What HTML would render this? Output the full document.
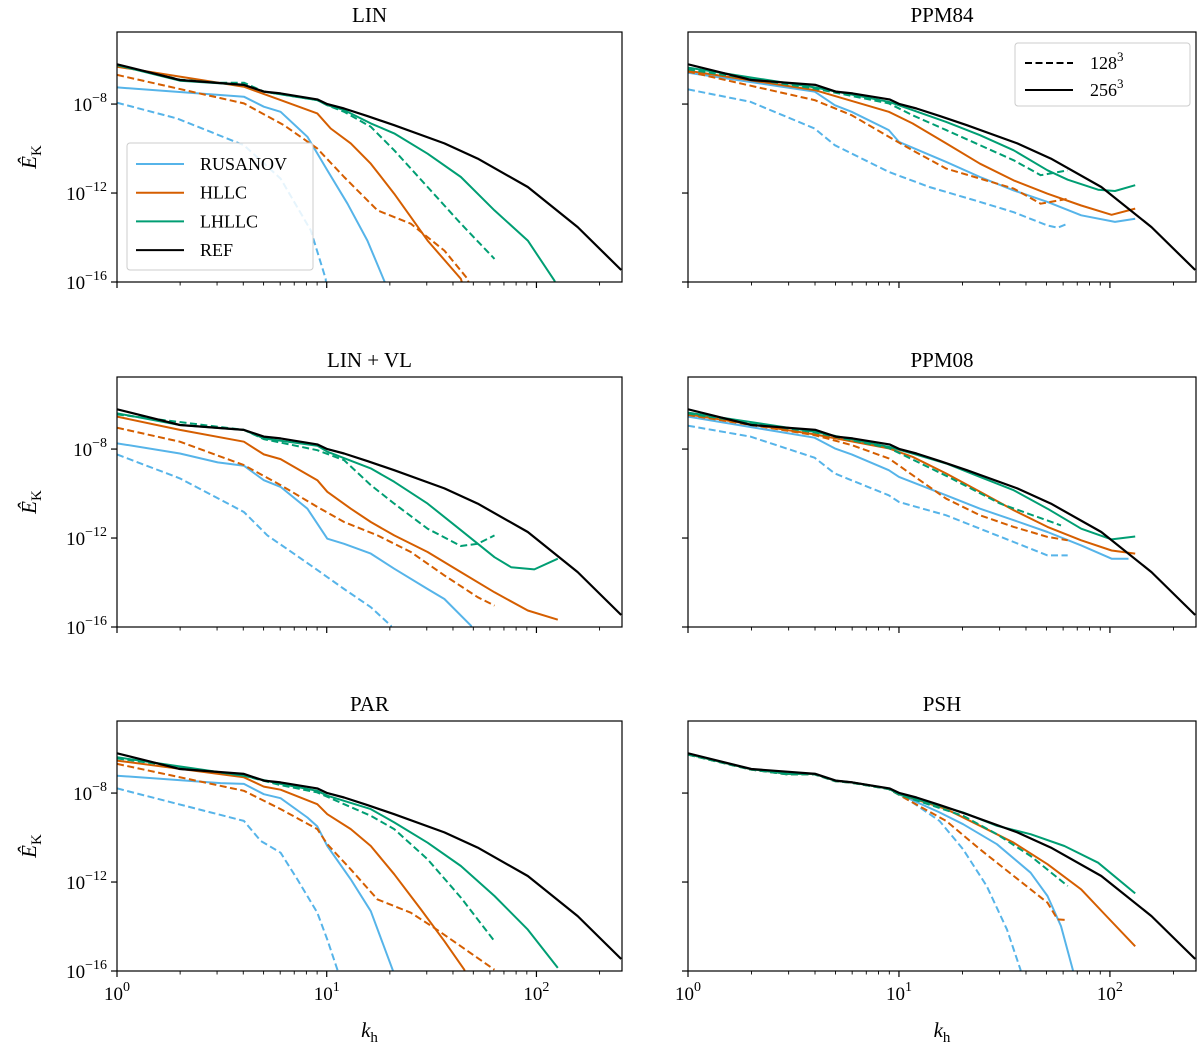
<!DOCTYPE html>
<html><head><meta charset="utf-8">
<style>
html,body{margin:0;padding:0;background:#fff;}
svg{display:block;font-family:"Liberation Serif","DejaVu Serif",serif;}
</style></head>
<body>
<svg id="fig" width="1200" height="1045" viewBox="0 0 1200 1045" xmlns="http://www.w3.org/2000/svg"></svg>
<script>
// data in log10 space: [log10 k_h, log10 E_K]
const panelTitles = ["LIN","PPM84","LIN + VL","PPM08","PAR","PSH"];
const schemes = ["RUSANOV","HLLC","LHLLC","REF"];
const refSeries = [[0,-6.21],[0.30,-6.92],[0.605,-7.14],[0.70,-7.44],[0.78,-7.52],[0.955,-7.79],[1.003,-8.0],[1.083,-8.2],[1.194,-8.54],[1.322,-8.95],[1.561,-9.77],[1.72,-10.45],[1.959,-11.73],[2.197,-13.53],[2.404,-15.46]];
const linRus256 = [[0,-7.25],[0.605,-7.67],[0.70,-8.12],[0.78,-8.35],[0.908,-9.47],[1.003,-10.98],[1.099,-12.48],[1.194,-14.14],[1.274,-15.94],[1.3,-16.5]];
const linRus128 = [[0,-7.94],[0.287,-8.65],[0.605,-9.85],[0.78,-11.35],[0.924,-13.68],[0.995,-15.86],[1.0,-16.5]];
const linHllc256 = [[0,-6.32],[0.605,-7.22],[0.78,-7.82],[0.955,-8.42],[1.019,-9.1],[1.115,-9.77],[1.21,-10.68],[1.322,-12.03],[1.481,-14.14],[1.64,-15.86],[1.66,-16.5]];
const linHllc128 = [[0,-6.69],[0.605,-7.97],[0.796,-8.95],[0.955,-10.0],[1.083,-11.28],[1.242,-12.78],[1.401,-13.38],[1.561,-14.59],[1.672,-15.86],[1.69,-16.5]];
const linLh256 = [[0,-6.25],[0.30,-6.95],[0.605,-7.14],[0.70,-7.44],[0.955,-7.82],[1.003,-8.05],[1.083,-8.27],[1.21,-8.87],[1.322,-9.32],[1.481,-10.23],[1.64,-11.28],[1.80,-12.78],[1.959,-14.14],[2.086,-15.94],[2.1,-16.5]];
const linLh128 = [[0,-6.25],[0.30,-6.9],[0.48,-7.04],[0.605,-7.04],[0.70,-7.44],[0.955,-7.82],[1.003,-8.05],[1.083,-8.35],[1.21,-9.02],[1.322,-10.08],[1.481,-11.73],[1.64,-13.38],[1.80,-14.96]];
const p84Rus256 = [[0,-6.59],[0.6,-7.44],[0.696,-8.05],[0.776,-8.35],[0.952,-9.17],[1.0,-9.7],[1.224,-10.6],[1.384,-11.28],[1.544,-11.88],[1.704,-12.4],[1.864,-13.0],[2.024,-13.3],[2.12,-13.16]];
const p84Rus128 = [[0,-7.34],[0.296,-7.9],[0.6,-9.1],[0.696,-9.85],[0.952,-11.05],[1.144,-11.73],[1.384,-12.4],[1.544,-12.86],[1.704,-13.46],[1.752,-13.56],[1.8,-13.38]];
const p84Hllc256 = [[0,-6.5],[0.6,-7.37],[0.952,-8.35],[1.064,-8.87],[1.224,-9.77],[1.384,-10.68],[1.544,-11.43],[1.704,-12.03],[1.864,-12.56],[2.008,-12.98],[2.12,-12.7]];
const p84Hllc128 = [[0,-6.54],[0.6,-7.82],[0.776,-8.5],[0.952,-9.47],[1.064,-10.08],[1.224,-10.9],[1.384,-11.35],[1.544,-11.8],[1.672,-12.48],[1.8,-12.26]];
const p84Lh256 = [[0,-6.36],[0.6,-7.25],[0.952,-7.9],[1.064,-8.27],[1.224,-8.8],[1.384,-9.4],[1.544,-10.08],[1.704,-10.98],[1.8,-11.4],[1.944,-11.85],[2.024,-11.91],[2.12,-11.65]];
const p84Lh128 = [[0,-6.44],[0.6,-7.3],[0.952,-7.97],[1.064,-8.5],[1.224,-9.17],[1.384,-9.85],[1.544,-10.53],[1.672,-11.2],[1.8,-10.98]];
const vlRus256 = [[0,-7.74],[0.30,-8.2],[0.48,-8.6],[0.605,-8.75],[0.70,-9.4],[0.78,-9.7],[0.908,-10.68],[1.003,-12.03],[1.083,-12.26],[1.21,-12.7],[1.322,-13.38],[1.481,-14.29],[1.561,-14.74],[1.688,-15.94],[1.71,-16.5]];
const vlRus128 = [[0,-8.24],[0.30,-9.32],[0.605,-10.83],[0.717,-11.88],[0.924,-13.23],[1.083,-14.29],[1.21,-15.11],[1.306,-15.94],[1.32,-16.5]];
const vlHllc256 = [[0,-6.54],[0.30,-7.14],[0.605,-7.67],[0.70,-8.24],[0.78,-8.45],[0.955,-9.4],[1.003,-9.92],[1.115,-10.68],[1.21,-11.28],[1.322,-11.88],[1.481,-12.63],[1.64,-13.53],[1.80,-14.44],[1.959,-15.26],[2.102,-15.67]];
const vlHllc128 = [[0,-7.04],[0.30,-7.67],[0.605,-8.72],[0.78,-9.62],[0.955,-10.6],[1.083,-11.28],[1.242,-11.88],[1.401,-12.63],[1.561,-13.68],[1.72,-14.66],[1.80,-15.04]];
const vlLh256 = [[0,-6.39],[0.30,-6.92],[0.605,-7.14],[0.70,-7.52],[0.955,-7.85],[1.003,-8.12],[1.21,-8.87],[1.322,-9.47],[1.481,-10.45],[1.64,-11.65],[1.80,-12.86],[1.879,-13.31],[1.99,-13.41],[2.102,-12.93]];
const vlLh128 = [[0,-6.44],[0.605,-7.14],[0.70,-7.55],[0.955,-8.05],[1.083,-8.5],[1.21,-9.62],[1.322,-10.45],[1.481,-11.58],[1.64,-12.36],[1.72,-12.26],[1.80,-11.88]];
const p08Rus256 = [[0,-6.54],[0.6,-7.49],[0.696,-7.97],[0.776,-8.24],[0.952,-8.95],[1.0,-9.25],[1.224,-10.08],[1.384,-10.68],[1.544,-11.2],[1.704,-11.73],[1.864,-12.33],[2.008,-12.93],[2.088,-12.93]];
const p08Rus128 = [[0,-6.95],[0.296,-7.44],[0.6,-8.39],[0.696,-9.1],[0.952,-10.08],[1.0,-10.38],[1.224,-10.98],[1.384,-11.58],[1.544,-12.18],[1.704,-12.78],[1.8,-12.78]];
const p08Hllc256 = [[0,-6.44],[0.6,-7.34],[0.952,-7.97],[1.064,-8.35],[1.224,-9.1],[1.384,-9.92],[1.544,-10.75],[1.704,-11.5],[1.864,-12.1],[2.008,-12.56],[2.12,-12.7]];
const p08Hllc128 = [[0,-6.47],[0.6,-7.37],[0.776,-7.82],[0.952,-8.42],[1.064,-9.17],[1.224,-10.23],[1.384,-10.98],[1.544,-11.5],[1.704,-11.95],[1.8,-12.1]];
const p08Lh256 = [[0,-6.36],[0.6,-7.22],[0.952,-7.9],[1.064,-8.2],[1.224,-8.65],[1.384,-9.25],[1.544,-9.85],[1.704,-10.68],[1.864,-11.58],[2.008,-12.06],[2.12,-11.93]];
const p08Lh128 = [[0,-6.4],[0.6,-7.25],[0.952,-7.95],[1.224,-9.2],[1.48,-10.45],[1.768,-11.43]];
const parRus256 = [[0,-7.22],[0.494,-7.55],[0.605,-7.59],[0.70,-8.05],[0.78,-8.23],[0.908,-9.1],[0.955,-9.5],[1.003,-10.38],[1.115,-11.88],[1.21,-13.31],[1.314,-15.94],[1.33,-16.5]];
const parRus128 = [[0,-7.79],[0.48,-8.95],[0.605,-9.25],[0.685,-10.15],[0.78,-10.68],[0.86,-11.88],[0.955,-13.38],[1.003,-14.59],[1.051,-15.94],[1.06,-16.5]];
const parHllc256 = [[0,-6.54],[0.605,-7.29],[0.70,-7.71],[0.78,-7.85],[0.955,-8.5],[1.003,-8.95],[1.115,-9.62],[1.21,-10.38],[1.322,-11.65],[1.449,-13.23],[1.561,-14.66],[1.656,-15.94],[1.67,-16.5]];
const parHllc128 = [[0,-6.69],[0.605,-7.9],[0.78,-8.72],[0.955,-9.62],[1.003,-10.3],[1.115,-11.43],[1.242,-12.78],[1.401,-13.38],[1.513,-14.06],[1.64,-14.89],[1.80,-15.94]];
const parLh256 = [[0,-6.39],[0.605,-7.22],[0.78,-7.59],[0.955,-7.9],[1.003,-8.12],[1.21,-8.72],[1.322,-9.32],[1.481,-10.23],[1.64,-11.28],[1.80,-12.63],[1.959,-14.14],[2.102,-15.86]];
const parLh128 = [[0,-6.44],[0.605,-7.22],[0.78,-7.64],[0.955,-7.97],[1.083,-8.5],[1.21,-9.02],[1.322,-9.62],[1.481,-10.98],[1.64,-12.7],[1.80,-14.66]];
const pshRus256 = [[0,-6.25],[0.296,-6.92],[0.472,-7.14],[0.6,-7.14],[0.696,-7.44],[0.776,-7.52],[0.952,-7.8],[1.0,-8.05],[1.192,-8.87],[1.304,-9.4],[1.464,-10.3],[1.624,-11.58],[1.704,-12.63],[1.768,-13.98],[1.824,-15.94],[1.83,-16.5]];
const pshRus128 = [[0,-6.27],[0.296,-6.94],[0.472,-7.16],[0.6,-7.16],[0.696,-7.46],[0.776,-7.54],[0.952,-7.82],[1.064,-8.42],[1.192,-9.25],[1.304,-10.53],[1.416,-12.18],[1.512,-14.14],[1.576,-15.94],[1.58,-16.5]];
const pshHllc256 = [[0,-6.25],[0.296,-6.92],[0.472,-7.14],[0.6,-7.14],[0.696,-7.44],[0.776,-7.52],[0.952,-7.8],[1.0,-8.05],[1.224,-8.72],[1.384,-9.47],[1.544,-10.23],[1.704,-11.2],[1.864,-12.33],[1.976,-13.46],[2.12,-14.89]];
const pshHllc128 = [[0,-6.27],[0.296,-6.94],[0.472,-7.16],[0.6,-7.16],[0.696,-7.46],[0.776,-7.54],[0.952,-7.82],[1.064,-8.42],[1.224,-9.25],[1.384,-10.53],[1.544,-11.73],[1.704,-12.93],[1.752,-13.68],[1.8,-13.71]];
const pshLh256 = [[0,-6.25],[0.296,-6.92],[0.472,-7.14],[0.6,-7.14],[0.696,-7.44],[0.776,-7.52],[0.952,-7.8],[1.0,-8.05],[1.304,-8.87],[1.464,-9.47],[1.624,-9.85],[1.784,-10.38],[1.944,-11.13],[2.12,-12.51]];
const pshLh128 = [[0,-6.27],[0.296,-6.94],[0.472,-7.16],[0.6,-7.16],[0.696,-7.46],[0.776,-7.54],[0.952,-7.82],[1.0,-8.07],[1.304,-9.02],[1.464,-9.85],[1.624,-10.83],[1.8,-12.18]];
const panelSeries = [
 [linRus128,linRus256,linHllc128,linHllc256,linLh128,linLh256],
 [p84Rus128,p84Rus256,p84Hllc128,p84Hllc256,p84Lh128,p84Lh256],
 [vlRus128,vlRus256,vlHllc128,vlHllc256,vlLh128,vlLh256],
 [p08Rus128,p08Rus256,p08Hllc128,p08Hllc256,p08Lh128,p08Lh256],
 [parRus128,parRus256,parHllc128,parHllc256,parLh128,parLh256],
 [pshRus128,pshRus256,pshHllc128,pshHllc256,pshLh128,pshLh256]
];
const yTickVals = [-16,-12,-8];
const xTickVals = [0,1,2];

const NS="http://www.w3.org/2000/svg";
const svg=document.getElementById('fig');
function mk(tag,attrs,parent){const e=document.createElementNS(NS,tag);for(const k in attrs)e.setAttribute(k,attrs[k]);(parent||svg).appendChild(e);return e;}
const colors=["#56B4E9","#D55E00","#009E73","#000000"];
const cols=[{x0:117,x1:622},{x0:688,x1:1196}];
const rows=[{y0:32,y1:282},{y0:377,y1:627},{y0:721,y1:971}];
const XMAX=2.408, YMIN=-16, YMAX=-4.76;

for(let p=0;p<6;p++){
  const c=cols[p%2], r=rows[Math.floor(p/2)];
  const sx=v=>c.x0+(v/XMAX)*(c.x1-c.x0);
  const sy=v=>r.y1-(v-YMIN)/(YMAX-YMIN)*(r.y1-r.y0);
  const g=mk('g',{});
  
  
  const cp=mk('clipPath',{id:'clip'+p},g);
  mk('rect',{x:c.x0,y:r.y0,width:c.x1-c.x0,height:r.y1-r.y0},cp);
  const t=mk('text',{x:(c.x0+c.x1)/2,y:r.y0-10,'text-anchor':'middle','font-size':'21'},g);
  t.textContent=panelTitles[p];
  
  
  const lines=mk('g',{'clip-path':'url(#clip'+p+')'},g);
  const all=panelSeries[p];
  for(let s=0;s<6;s++){
    const data=all[s];
    const d=data.map((pt,i)=>(i?'L':'M')+sx(pt[0]).toFixed(1)+','+sy(pt[1]).toFixed(1)).join(' ');
    const path=mk('path',{d:d,fill:'none',stroke:colors[Math.floor(s/2)],'stroke-width':'2','stroke-linejoin':'round','stroke-dasharray':(s%2===0)?'7,3.5':'none'},lines);
    
    
  }
  const rd=refSeries.map((pt,i)=>(i?'L':'M')+sx(pt[0]).toFixed(1)+','+sy(pt[1]).toFixed(1)).join(' ');
  const refPath=mk('path',{d:rd,fill:'none',stroke:'#000','stroke-width':'2.2','stroke-linejoin':'round'},lines);
  
  
  const fr=mk('rect',{x:c.x0,y:r.y0,width:c.x1-c.x0,height:r.y1-r.y0,fill:'none',stroke:'#000','stroke-width':'1.2'},g);
  
  
  for(const v of yTickVals){
    const y=sy(v);
    mk('line',{x1:c.x0-6,x2:c.x0,y1:y,y2:y,stroke:'#000','stroke-width':'1.2'},g);
    if(p%2===0){
      const tl=mk('text',{x:c.x0-10,y:y+7,'text-anchor':'end','font-size':'19'},g);
      tl.innerHTML='10<tspan dy="-9" font-size="14">\u2212'+(-v)+'</tspan>';
      
      
    }
  }
  for(let dec=0;dec<3;dec++){
    for(let m=1;m<10;m++){
      const lv=dec+Math.log10(m);
      if(lv>XMAX)break;
      const x=sx(lv);
      mk('line',{x1:x,x2:x,y1:r.y1,y2:r.y1+(m===1?6:3.5),stroke:'#000','stroke-width':m===1?'1.2':'0.9'},g);
    }
  }
  if(p>=4){
    for(const v of xTickVals){
      const tl=mk('text',{x:sx(v),y:r.y1+29,'text-anchor':'middle','font-size':'19'},g);
      tl.innerHTML='10<tspan dy="-9" font-size="14">'+v+'</tspan>';
      
      
    }
    const xl=mk('text',{x:(c.x0+c.x1)/2,y:1037,'text-anchor':'middle','font-size':'21'},g);
    xl.innerHTML='<tspan font-style="italic">k</tspan><tspan dy="5" font-size="15">h</tspan>';
    
    
  }
  if(p%2===0){
    const cy=(r.y0+r.y1)/2;
    const yl=mk('text',{x:0,y:0,'text-anchor':'middle','font-size':'21',transform:'translate(36,'+cy+') rotate(-90)'},g);
    yl.innerHTML='<tspan font-style="italic">Ê</tspan><tspan dy="5" font-size="15">K</tspan>';
    
    
  }
}
const lg=mk('g',{});


mk('rect',{x:127,y:143,width:186,height:127,rx:3,fill:'#fff','fill-opacity':'0.85',stroke:'#ccc'},lg);
schemes.forEach((s,i)=>{
  const y=164+i*28.7;
  const ln=mk('line',{x1:136,x2:184,y1:y,y2:y,stroke:colors[i],'stroke-width':'2'},lg);
  
  
  const tx=mk('text',{x:200,y:y+6,'font-size':'18'},lg);
  tx.textContent=s;
  
  
});
const rg=mk('g',{});


mk('rect',{x:1015,y:43,width:175,height:63,rx:3,fill:'#fff','fill-opacity':'0.85',stroke:'#ccc'},rg);
['128','256'].forEach((s,i)=>{
  const y=63+i*27;
  const ln=mk('line',{x1:1025,x2:1073,y1:y,y2:y,stroke:'#000','stroke-width':'2','stroke-dasharray':i===0?'7,3.5':'none'},rg);
  
  
  const tx=mk('text',{x:1090,y:y+6,'font-size':'18'},rg);
  tx.innerHTML=s+'<tspan dy="-8" font-size="13">3</tspan>';
  
  
});
</script>
</body></html>
